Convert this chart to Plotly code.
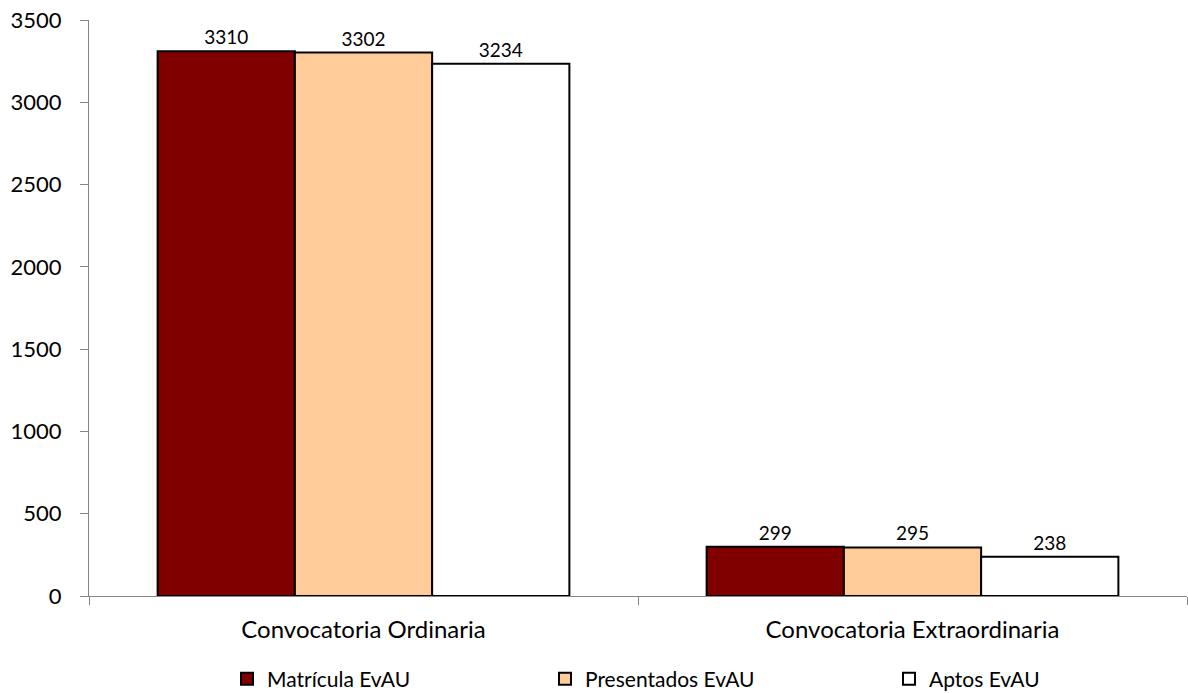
import plotly.graph_objects as go

categories = ["Convocatoria Ordinaria", "Convocatoria Extraordinaria"]
series_names = ["Matrícula EvAU", "Presentados EvAU", "Aptos EvAU"]
matricula = [3310, 299]
presentados = [3302, 295]
aptos = [3234, 238]
colors = ["#800000", "#FFCC99", "#FFFFFF"]
legend_ids = ["legend", "legend2", "legend3"]
legend_x = [0.1257, 0.4153, 0.7286]

fig = go.Figure()
for name, vals, col, lid in zip(series_names, [matricula, presentados, aptos], colors, legend_ids):
    fig.add_trace(go.Bar(
        x=categories, y=vals, name=name, legend=lid,
        marker=dict(color=col, line=dict(color="black", width=2)),
        text=vals, texttemplate="%{text}",
        textposition="outside", cliponaxis=False,
        textfont=dict(family="Lato, sans-serif", size=19, color="black"),
    ))

fig.update_layout(
    width=1188, height=693,
    margin=dict(l=89, r=1, t=20, b=97),
    paper_bgcolor="white", plot_bgcolor="white",
    barmode="group", bargap=0.25, bargroupgap=0,
    font=dict(family="Lato, sans-serif", size=17, color="black"),
    showlegend=True,
)
for lid, lx in zip(legend_ids, legend_x):
    fig.update_layout({lid: dict(orientation="h", x=lx, xanchor="left",
                                 yref="container", y=0.02, yanchor="middle",
                                 font=dict(size=21), itemwidth=30,
                                 bgcolor="rgba(0,0,0,0)")})

fig.update_yaxes(range=[0, 3500], dtick=500, showgrid=False, showline=True,
                 linecolor="#868686", linewidth=1, ticks="outside", ticklen=8,
                 tickcolor="#868686", zeroline=False, tickfont=dict(size=22),
                 automargin=False, ticklabelstandoff=14)
fig.update_xaxes(showline=True, linecolor="#868686", linewidth=1, ticks="outside",
                 ticklen=8, tickcolor="#868686", tickson="boundaries",
                 tickfont=dict(size=24), showgrid=False, automargin=False,
                 ticklabelstandoff=12)

fig.write_html("out.html", config={"displayModeBar": False},
               post_script="document.body.style.margin='0';")
